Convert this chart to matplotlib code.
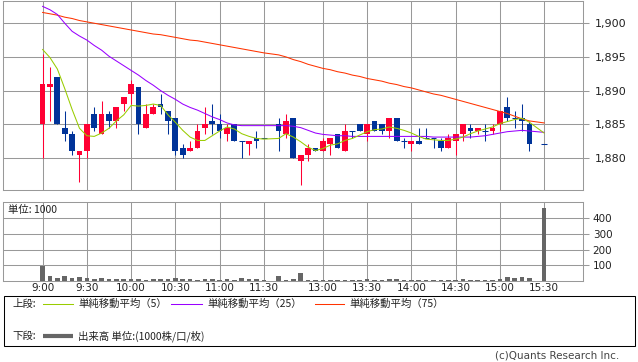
import numpy as np
import matplotlib
matplotlib.use("Agg")
import matplotlib.pyplot as plt
from matplotlib.patches import Rectangle
from matplotlib.ticker import FuncFormatter

nan = np.nan
# ---- data (5-minute bars, slot index 0..68; nan = no bar) ----
time_labels = ["9:00", "9:30", "10:00", "10:30", "11:00", "11:30",
               "13:00", "13:30", "14:00", "14:30", "15:00", "15:30"]
label_slots = [0, 6, 12, 18, 24, 30, 38, 44, 50, 56, 62, 68]

opens = [1885, 1890.5, 1892, 1884.5, 1883.5, 1880.5, 1881, 1886.5, 1883.5, 1886.5,
         1885.5, 1888, 1889.5, 1890.5, 1884.5, 1886.5, 1888, 1887, 1886, 1881.5,
         1881, 1881.5, 1884.5, 1885.5, 1885, 1883.5, 1885, 1882.5, 1882, 1883,
         1883, nan, 1885, 1883.5, 1886, 1879.5, 1880.5, 1881.5, 1881, 1882,
         1883.5, 1881, 1884, 1885, 1883.5, 1885.5, 1885, 1884, 1886, 1882.5,
         1882, 1882.5, 1883, 1883, 1882.5, 1881.5, 1882.5, 1883.5, 1884.5, 1884,
         1884, 1884, 1885, 1887.5, 1886, 1886, 1885, nan, 1882]
highs = [1895.5, 1893.5, 1892, 1887, 1884, 1881, 1885, 1887.5, 1888.5, 1887,
         1887.5, 1889, 1891.5, 1890.5, 1888, 1888, 1889.5, 1887, 1886, 1882,
         1882.5, 1885, 1887.5, 1888, 1886.5, 1885, 1885, 1882.5, 1882.5, 1884,
         1883, nan, 1886, 1886.5, 1886, 1880.5, 1882, 1881.5, 1883, 1883,
         1883.5, 1885, 1884, 1885, 1885, 1885.5, 1885, 1886, 1886, 1883,
         1882.5, 1884.5, 1884.5, 1883, 1883, 1883.5, 1883.5, 1885, 1885, 1884.5,
         1885, 1885, 1887, 1889, 1887, 1888, 1885.5, nan, 1882]
lows = [1880, 1885.5, 1885, 1882.5, 1880.5, 1876.5, 1880, 1884, 1883.5, 1884.5,
        1884.5, 1887, 1888, 1883.5, 1884.5, 1886.5, 1886.5, 1883.5, 1880.5, 1880,
        1881, 1881.5, 1883.5, 1883.5, 1883, 1882.5, 1882.5, 1880, 1880.5, 1881.5,
        1883, nan, 1881, 1883, 1880, 1876, 1879.5, 1881, 1881, 1880.5,
        1881.5, 1881, 1883, 1884, 1882.5, 1884, 1883.5, 1883, 1882.5, 1881.5,
        1881, 1882, 1883, 1881.5, 1881, 1881.5, 1880.5, 1882.5, 1883, 1883.5,
        1882.5, 1883.5, 1884, 1885.5, 1884.5, 1884, 1881, nan, 1882]
closes = [1891, 1891, 1885, 1883.5, 1881, 1881, 1885, 1884.5, 1886.5, 1885.5,
          1887.5, 1889, 1891, 1885, 1886.5, 1887.5, 1887.5, 1885.5, 1881, 1880.5,
          1881.5, 1884, 1885, 1885, 1884, 1884.5, 1882.5, 1882.5, 1882.5, 1882.5,
          1883, nan, 1884, 1885.5, 1880, 1880.5, 1881.5, 1881, 1882.5, 1883,
          1881.5, 1884, 1884, 1884, 1885, 1884, 1884, 1886, 1882.5, 1882.5,
          1882.5, 1882, 1883, 1883, 1881.5, 1883, 1883.5, 1885, 1884, 1884.5,
          1884, 1884.5, 1887, 1886, 1886, 1885.5, 1882, nan, 1882]
volume = [95, 29, 17, 27, 17, 22, 16, 10, 14, 10,
          10, 9, 10, 9, 6, 9, 9, 9, 14, 9,
          8, 4, 9, 9, 4, 9, 5, 14, 8, 9,
          3, nan, 30, 5, 9, 50, 6, 4, 5, 4,
          3, 4, 3, 4, 8, 3, 3, 9, 9, 3,
          3, 3, 2, 2, 3, 3, 4, 9, 4, 3,
          3, 3, 8, 21, 15, 26, 15, nan, 470]
ma5 = [1896.1, 1894.9, 1893.2, 1890.3, 1887.2, 1884.4, 1883.3, 1883.2, 1883.7, 1884.4,
       1885.5, 1886.4, 1887.8, 1887.7, 1887.8, 1888.0, 1887.8, 1886.4, 1885.3, 1884.1,
       1883.1, 1882.6, 1882.6, 1883.3, 1884.0, 1884.6, 1884.3, 1883.6, 1883.2, 1882.9,
       1882.8, nan, 1882.9, 1883.6, 1883.1, 1882.4, 1881.6, 1881.1, 1881.4, 1881.9,
       1882.1, 1882.6, 1882.9, 1883.4, 1883.9, 1884.2, 1884.3, 1884.6, 1884.4, 1884.1,
       1883.7, 1883.2, 1882.8, 1882.7, 1882.6, 1882.6, 1882.8, 1883.1, 1883.6, 1884.0,
       1884.3, 1884.6, 1885.1, 1885.4, 1885.7, 1885.9, 1885.3, nan, 1883.7]
ma25 = [1902.5, 1902.0, 1901.3, 1900.0, 1898.8, 1898.1, 1897.5, 1896.7, 1896.0, 1895.1,
        1894.4, 1893.7, 1893.0, 1892.3, 1891.5, 1890.8, 1890.0, 1889.3, 1888.7, 1888.0,
        1887.5, 1887.1, 1886.6, 1886.1, 1885.7, 1885.2, 1884.9, 1884.8, 1884.8, 1884.8,
        1884.8, nan, 1884.8, 1884.8, 1884.7, 1884.5, 1884.1, 1883.7, 1883.5, 1883.4,
        1883.3, 1883.3, 1883.2, 1883.2, 1883.2, 1883.2, 1883.2, 1883.2, 1883.2, 1883.2,
        1883.2, 1883.2, 1883.2, 1883.1, 1883.1, 1883.1, 1883.1, 1883.1, 1883.1, 1883.2,
        1883.3, 1883.5, 1883.7, 1883.9, 1884.0, 1884.1, 1884.0, nan, 1883.8]
ma75 = [1901.6, 1901.4, 1901.2, 1900.9, 1900.7, 1900.4, 1900.2, 1900.0, 1899.8, 1899.6,
        1899.4, 1899.2, 1899.0, 1898.8, 1898.6, 1898.4, 1898.3, 1898.1, 1897.9, 1897.7,
        1897.5, 1897.4, 1897.2, 1897.0, 1896.8, 1896.6, 1896.4, 1896.2, 1896.0, 1895.8,
        1895.6, nan, 1895.3, 1895.0, 1894.6, 1894.3, 1893.9, 1893.6, 1893.3, 1893.1,
        1892.8, 1892.6, 1892.3, 1892.1, 1891.8, 1891.6, 1891.4, 1891.1, 1890.9, 1890.6,
        1890.4, 1890.1, 1889.8, 1889.5, 1889.3, 1889.0, 1888.7, 1888.4, 1888.1, 1887.8,
        1887.5, 1887.2, 1886.9, 1886.6, 1886.2, 1885.8, 1885.5, nan, 1885.2]
price_ticks = [1880, 1885, 1890, 1895, 1900]
vol_ticks = [100, 200, 300, 400]

# ---- styling ----
W, H = 638, 362
C_UP, C_DN = "#FF0033", "#003399"
C_MA5, C_MA25, C_MA75 = "#99CC00", "#9900FF", "#FF3300"
C_GRID = "#999999"
C_VOL = "#666666"
LW = 0.75
CJK = ["Noto Sans CJK JP", "DejaVu Sans"]
plt.rcParams["font.family"] = ["DejaVu Sans", "Noto Sans CJK JP"]

fig = plt.figure(figsize=(W / 100, H / 100), dpi=100)
fig.patch.set_facecolor("white")


def px_axes(x0, y0, x1, y1):
    return fig.add_axes([x0 / W, 1 - y1 / H, (x1 - x0) / W, (y1 - y0) / H])


x = np.arange(len(closes), dtype=float)
o = np.array(opens, float); h = np.array(highs, float)
l = np.array(lows, float); c = np.array(closes, float)
v = np.array(volume, float)
valid = ~np.isnan(c)
xlim = (-5.33, 73.27)

# ---- upper panel ----
ax = px_axes(3.3, 1, 583, 190.3)
ax.set_xlim(*xlim)
ax.set_ylim(1875.2, 1903.3)
for xs in label_slots:
    ax.axvline(xs, color=C_GRID, lw=LW, zorder=0)
for ys in price_ticks:
    ax.axhline(ys, color=C_GRID, lw=LW, zorder=0)

up = valid & (c > o)
dn = valid & ~(c > o)
bw = 0.78
for mask, col in ((up, C_UP), (dn, C_DN)):
    ax.vlines(x[mask], l[mask], h[mask], color=col, lw=LW, zorder=3)
    bot = np.minimum(o[mask], c[mask])
    hgt = np.abs(c[mask] - o[mask])
    ax.bar(x[mask], hgt, bw, bottom=bot, color=col, lw=0, zorder=4)
    flat = hgt == 0
    ax.hlines(c[mask][flat], x[mask][flat] - bw / 2, x[mask][flat] + bw / 2,
              color=col, lw=LW, zorder=4)

for arr, col in ((ma75, C_MA75), (ma25, C_MA25), (ma5, C_MA5)):
    a = np.array(arr, float)
    m = ~np.isnan(a)
    ax.plot(x[m], a[m], color=col, lw=LW, zorder=5)

ax.yaxis.tick_right()
ax.set_yticks(price_ticks)
ax.yaxis.set_major_formatter(FuncFormatter(lambda val, pos: f"{val:,.0f}"))
ax.tick_params(axis="y", direction="out", length=4, width=LW, color=C_GRID,
               pad=4.5, labelsize=8, labelcolor="#222222")
ax.set_xticks([])
for s in ax.spines.values():
    s.set_color(C_GRID); s.set_linewidth(LW)

# ---- volume panel ----
av = px_axes(3.3, 202.3, 583, 280.6)
av.set_xlim(*xlim)
av.set_ylim(0, 504)
for xs in label_slots:
    av.axvline(xs, color=C_GRID, lw=LW, zorder=0)
for ys in vol_ticks:
    av.axhline(ys, color=C_GRID, lw=LW, zorder=0)
av.bar(x[valid], v[valid], 0.64, color=C_VOL, lw=0, zorder=3)
av.yaxis.tick_right()
av.set_yticks(vol_ticks)
av.tick_params(axis="y", direction="out", length=4, width=LW, color=C_GRID,
               pad=3, labelsize=7.5, labelcolor="#222222")
av.set_xticks(label_slots)
av.set_xticklabels(time_labels)
av.tick_params(axis="x", length=0, pad=1.5, labelsize=7.5, labelcolor="#222222")
for s in av.spines.values():
    s.set_color(C_GRID); s.set_linewidth(LW)
av.text(5 / 580, 0.9, "単位: 1000", transform=av.transAxes, fontsize=7.5,
        family=CJK, va="center", ha="left", color="#222222")

# ---- legend box (overlay in pixel coordinates) ----
ov = fig.add_axes([0, 0, 1, 1])
ov.set_xlim(0, W); ov.set_ylim(H, 0); ov.axis("off")
ov.add_patch(Rectangle((3.5, 295.5), 631, 50.5, fill=False, ec="black", lw=LW))
ty1, ty2 = 303.5, 336
fs = 7.5
ov.text(12, ty1, "上段:", family=CJK, fontsize=fs, va="center", color="#222222")
leg = [(43, 73, 78, C_MA5, "単純移動平均（5）"),
       (171, 202, 207, C_MA25, "単純移動平均（25）"),
       (315, 344, 349, C_MA75, "単純移動平均（75）")]
for x0, x1, tx, col, txt in leg:
    ov.plot([x0, x1], [ty1, ty1], color=col, lw=LW)
    ov.text(tx, ty1, txt, family=CJK, fontsize=fs, va="center", color="#222222")
ov.text(12, ty2, "下段:", family=CJK, fontsize=fs, va="center", color="#222222")
ov.plot([43, 73], [ty2, ty2], color=C_VOL, lw=3.0, solid_capstyle="butt")
ov.text(78, ty2, "出来高 単位:(1000株/口/枚)", family=CJK, fontsize=fs,
        va="center", color="#222222")
ov.text(619, 356, "(c)Quants Research Inc.", fontsize=7.5, ha="right",
        va="center", color="#444444")

fig.savefig("out.png", dpi=100, facecolor="white")
